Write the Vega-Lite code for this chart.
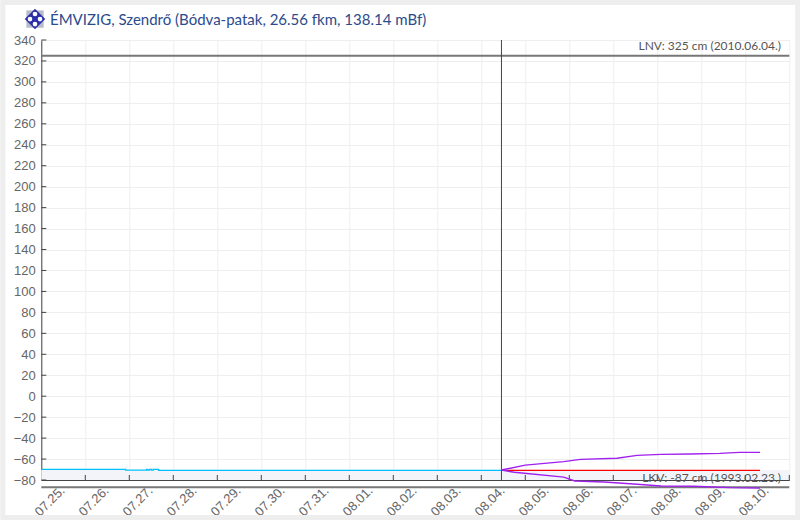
{"$schema":"https://vega.github.io/schema/vega-lite/v6.json","width":748,"height":440,"autosize":{"type":"none"},"padding":{"left":41.3,"top":40,"right":10.7,"bottom":40},"background":"#ffffff","config":{"view":{"stroke":null},"axis":{"grid":true,"gridColor":"#eeeeee","gridWidth":1,"domainColor":"#444444","ticks":false,"labelColor":"#666666","labelFont":"Liberation Sans","labelFontSize":13,"title":null}},"datasets":{"band":[{"a":"2024-07-25T00:00:00","b":"2024-08-11T00:00:00","lo":-80,"hi":-70.5}],"xt":[{"t":"2024-07-26T00:00:00","lo":-80,"hi":-75.2},{"t":"2024-07-27T00:00:00","lo":-80,"hi":-75.2},{"t":"2024-07-28T00:00:00","lo":-80,"hi":-75.2},{"t":"2024-07-29T00:00:00","lo":-80,"hi":-75.2},{"t":"2024-07-30T00:00:00","lo":-80,"hi":-75.2},{"t":"2024-07-31T00:00:00","lo":-80,"hi":-75.2},{"t":"2024-08-01T00:00:00","lo":-80,"hi":-75.2},{"t":"2024-08-02T00:00:00","lo":-80,"hi":-75.2},{"t":"2024-08-03T00:00:00","lo":-80,"hi":-75.2},{"t":"2024-08-04T00:00:00","lo":-80,"hi":-75.2},{"t":"2024-08-05T00:00:00","lo":-80,"hi":-75.2},{"t":"2024-08-06T00:00:00","lo":-80,"hi":-75.2},{"t":"2024-08-07T00:00:00","lo":-80,"hi":-75.2},{"t":"2024-08-08T00:00:00","lo":-80,"hi":-75.2},{"t":"2024-08-09T00:00:00","lo":-80,"hi":-75.2},{"t":"2024-08-10T00:00:00","lo":-80,"hi":-75.2},{"t":"2024-08-11T00:00:00","lo":-80,"hi":-75.2}],"yt":[{"v":-80,"a":"2024-07-25T00:00:00","b":"2024-07-25T02:44:00"},{"v":-60,"a":"2024-07-25T00:00:00","b":"2024-07-25T02:44:00"},{"v":-40,"a":"2024-07-25T00:00:00","b":"2024-07-25T02:44:00"},{"v":-20,"a":"2024-07-25T00:00:00","b":"2024-07-25T02:44:00"},{"v":0,"a":"2024-07-25T00:00:00","b":"2024-07-25T02:44:00"},{"v":20,"a":"2024-07-25T00:00:00","b":"2024-07-25T02:44:00"},{"v":40,"a":"2024-07-25T00:00:00","b":"2024-07-25T02:44:00"},{"v":60,"a":"2024-07-25T00:00:00","b":"2024-07-25T02:44:00"},{"v":80,"a":"2024-07-25T00:00:00","b":"2024-07-25T02:44:00"},{"v":100,"a":"2024-07-25T00:00:00","b":"2024-07-25T02:44:00"},{"v":120,"a":"2024-07-25T00:00:00","b":"2024-07-25T02:44:00"},{"v":140,"a":"2024-07-25T00:00:00","b":"2024-07-25T02:44:00"},{"v":160,"a":"2024-07-25T00:00:00","b":"2024-07-25T02:44:00"},{"v":180,"a":"2024-07-25T00:00:00","b":"2024-07-25T02:44:00"},{"v":200,"a":"2024-07-25T00:00:00","b":"2024-07-25T02:44:00"},{"v":220,"a":"2024-07-25T00:00:00","b":"2024-07-25T02:44:00"},{"v":240,"a":"2024-07-25T00:00:00","b":"2024-07-25T02:44:00"},{"v":260,"a":"2024-07-25T00:00:00","b":"2024-07-25T02:44:00"},{"v":280,"a":"2024-07-25T00:00:00","b":"2024-07-25T02:44:00"},{"v":300,"a":"2024-07-25T00:00:00","b":"2024-07-25T02:44:00"},{"v":320,"a":"2024-07-25T00:00:00","b":"2024-07-25T02:44:00"},{"v":340,"a":"2024-07-25T00:00:00","b":"2024-07-25T02:44:00"}],"obs":[{"t":"2024-07-25T00:00:00","v":-69.8},{"t":"2024-07-26T21:00:00","v":-69.8},{"t":"2024-07-26T22:00:00","v":-70.5},{"t":"2024-07-27T09:00:00","v":-70.5},{"t":"2024-07-27T09:30:00","v":-69.8},{"t":"2024-07-27T10:00:00","v":-70.5},{"t":"2024-07-27T11:00:00","v":-69.8},{"t":"2024-07-27T12:00:00","v":-70.5},{"t":"2024-07-27T13:00:00","v":-69.8},{"t":"2024-07-27T15:30:00","v":-69.8},{"t":"2024-07-27T16:00:00","v":-70.8},{"t":"2024-08-04T11:00:00","v":-70.8}],"fc":[{"t":"2024-08-04T11:00:00","v":-70.8},{"t":"2024-08-10T08:00:00","v":-70.8}],"up":[{"t":"2024-08-04T11:00:00","v":-70.5},{"t":"2024-08-05T00:00:00","v":-65.8},{"t":"2024-08-05T21:00:00","v":-62.5},{"t":"2024-08-06T06:00:00","v":-60.3},{"t":"2024-08-07T02:00:00","v":-59.3},{"t":"2024-08-07T13:00:00","v":-56.5},{"t":"2024-08-08T02:00:00","v":-55.5},{"t":"2024-08-08T18:00:00","v":-55.2},{"t":"2024-08-09T10:00:00","v":-54.6},{"t":"2024-08-09T21:00:00","v":-53.6},{"t":"2024-08-10T08:00:00","v":-53.6}],"dn":[{"t":"2024-08-04T11:00:00","v":-70.5},{"t":"2024-08-04T18:00:00","v":-72.6},{"t":"2024-08-05T21:00:00","v":-77.3},{"t":"2024-08-06T03:00:00","v":-80.9},{"t":"2024-08-06T19:00:00","v":-81.9},{"t":"2024-08-07T13:00:00","v":-84},{"t":"2024-08-08T02:00:00","v":-85.7},{"t":"2024-08-08T20:00:00","v":-86},{"t":"2024-08-09T16:00:00","v":-87.3},{"t":"2024-08-10T08:00:00","v":-87.7}],"lim":[{"v":325,"label":"LNV: 325 cm (2010.06.04.)","t":"2024-08-10T19:30:00"},{"v":-87,"label":"LKV: -87 cm (1993.02.23.)","t":"2024-08-10T19:30:00"}],"now":[{"t":"2024-08-04T11:00:00"}],"frame":[{"a":"2024-07-24T03:00:00","b":"2024-08-11T04:35:00","lo":-115.8,"hi":375.8}],"icon":[{"t":"2024-07-24T20:34:00","v":360}],"dots":[{"t":"2024-07-24T17:50:00","v":360},{"t":"2024-07-24T23:18:00","v":360},{"t":"2024-07-24T20:34:00","v":364.8},{"t":"2024-07-24T20:34:00","v":355.2}],"head":[{"t":"2024-07-25T04:45:00","v":359.1,"label":"ÉMVIZIG, Szendrő (Bódva-patak, 26.56 fkm, 138.14 mBf)"}]},"layer":[{"data":{"name":"band"},"mark":{"type":"rect","color":"#f3f4f9"},"encoding":{"x":{"field":"a","type":"temporal","scale":{"domain":["2024-07-25T00:00:00","2024-08-11T00:00:00"]},"axis":{"tickCount":30,"values":["2024-07-25T00:00:00","2024-07-26T00:00:00","2024-07-27T00:00:00","2024-07-28T00:00:00","2024-07-29T00:00:00","2024-07-30T00:00:00","2024-07-31T00:00:00","2024-08-01T00:00:00","2024-08-02T00:00:00","2024-08-03T00:00:00","2024-08-04T00:00:00","2024-08-05T00:00:00","2024-08-06T00:00:00","2024-08-07T00:00:00","2024-08-08T00:00:00","2024-08-09T00:00:00","2024-08-10T00:00:00","2024-08-11T00:00:00"],"format":"%m.%d.","labelExpr":"date(datum.value)==11?'':datum.label","labelAngle":-45,"labelAlign":"right","labelBaseline":"middle","labelOffset":21,"labelPadding":8,"labelOverlap":false,"labelBound":false,"labelFlush":false}},"x2":{"field":"b"},"y":{"field":"lo","type":"quantitative","scale":{"domain":[-80,340],"nice":false},"axis":{"tickCount":30,"values":[-80,-60,-40,-20,0,20,40,60,80,100,120,140,160,180,200,220,240,260,280,300,320,340],"labelPadding":6,"labelOverlap":false,"labelBound":false,"labelFlush":false}},"y2":{"field":"hi"}}},{"data":{"name":"xt"},"mark":{"type":"rule","color":"#444444","strokeWidth":1},"encoding":{"x":{"field":"t","type":"temporal"},"y":{"field":"lo","type":"quantitative"},"y2":{"field":"hi"}}},{"data":{"name":"yt"},"mark":{"type":"rule","color":"#444444","strokeWidth":1},"encoding":{"x":{"field":"a","type":"temporal"},"x2":{"field":"b"},"y":{"field":"v","type":"quantitative"}}},{"data":{"name":"obs"},"mark":{"type":"line","color":"#00bfff","strokeWidth":1.3,"interpolate":"step-after","clip":false},"encoding":{"x":{"field":"t","type":"temporal"},"y":{"field":"v","type":"quantitative"}}},{"data":{"name":"lim"},"mark":{"type":"rule","color":"#777777","strokeWidth":2,"clip":false},"encoding":{"y":{"field":"v","type":"quantitative"}}},{"data":{"name":"now"},"mark":{"type":"rule","color":"#444444","strokeWidth":1},"encoding":{"x":{"field":"t","type":"temporal"}}},{"data":{"name":"fc"},"mark":{"type":"line","color":"#ff0000","strokeWidth":1.4,"clip":false},"encoding":{"x":{"field":"t","type":"temporal"},"y":{"field":"v","type":"quantitative"}}},{"data":{"name":"up"},"mark":{"type":"line","color":"#a020f0","strokeWidth":1.4,"clip":false},"encoding":{"x":{"field":"t","type":"temporal"},"y":{"field":"v","type":"quantitative"}}},{"data":{"name":"dn"},"mark":{"type":"line","color":"#a020f0","strokeWidth":1.4,"clip":false},"encoding":{"x":{"field":"t","type":"temporal"},"y":{"field":"v","type":"quantitative"}}},{"data":{"name":"lim"},"mark":{"type":"text","align":"right","baseline":"middle","dy":-9.5,"font":"Lato","fontSize":12,"color":"#555555","clip":false},"encoding":{"x":{"field":"t","type":"temporal"},"y":{"field":"v","type":"quantitative"},"text":{"field":"label"}}},{"data":{"name":"head"},"mark":{"type":"text","align":"left","baseline":"middle","font":"Lato","fontSize":15,"color":"#2b4b8c","clip":false},"encoding":{"x":{"field":"t","type":"temporal"},"y":{"field":"v","type":"quantitative"},"text":{"field":"label"}}},{"data":{"name":"frame"},"mark":{"type":"rect","fill":null,"stroke":"#eeeeee","strokeWidth":5,"clip":false},"encoding":{"x":{"field":"a","type":"temporal"},"x2":{"field":"b"},"y":{"field":"lo","type":"quantitative"},"y2":{"field":"hi"}}},{"data":{"name":"icon"},"mark":{"type":"point","shape":"square","filled":true,"opacity":1,"size":300,"color":"#b8bcc8","clip":false},"encoding":{"x":{"field":"t","type":"temporal"},"y":{"field":"v","type":"quantitative"}}},{"data":{"name":"icon"},"mark":{"type":"point","shape":"diamond","filled":true,"opacity":1,"size":420,"color":"#2b2fa8","clip":false},"encoding":{"x":{"field":"t","type":"temporal"},"y":{"field":"v","type":"quantitative"}}},{"data":{"name":"dots"},"mark":{"type":"point","shape":"circle","filled":true,"opacity":1,"size":22,"color":"#ffffff","clip":false},"encoding":{"x":{"field":"t","type":"temporal"},"y":{"field":"v","type":"quantitative"}}}]}
